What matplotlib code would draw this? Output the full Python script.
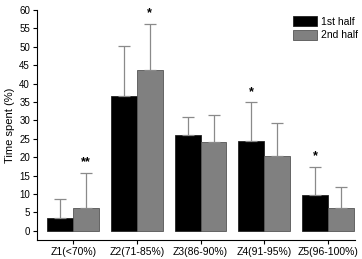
import numpy as np
import matplotlib.pyplot as plt

plt.rcParams['font.family'] = ['Liberation Sans', 'DejaVu Sans']

zones = ['Z1(<70%)', 'Z2(71-85%)', 'Z3(86-90%)', 'Z4(91-95%)', 'Z5(96-100%)']
first_half = [3.5, 36.6, 26.0, 24.4, 9.8]
first_err = [5.0, 13.6, 5.0, 10.5, 7.6]
second_half = [6.2, 43.6, 24.2, 20.2, 6.2]
second_err = [9.6, 12.6, 7.4, 9.1, 5.8]
# significance marks: (group, which bar, label)
marks = [(0, 1, '**'), (1, 1, '*'), (3, 0, '*'), (4, 0, '*')]

x = np.arange(len(zones))
w = 0.406

fig = plt.figure(figsize=(3.62, 2.59), dpi=100)
ax = fig.add_axes([0.102, 0.075, 0.878, 0.886])

ax.bar(x - w/2, first_half, w, color='black', edgecolor='#222222', linewidth=0.6, label='1st half')
ax.bar(x + w/2, second_half, w, color='#808080', edgecolor='#555555', linewidth=0.6, label='2nd half')
ax.errorbar(x - w/2, first_half, yerr=[np.zeros(5), first_err], fmt='none',
            ecolor='#8a8a8a', elinewidth=0.9, capsize=4, capthick=0.9)
ax.errorbar(x + w/2, second_half, yerr=[np.zeros(5), second_err], fmt='none',
            ecolor='#8a8a8a', elinewidth=0.9, capsize=4, capthick=0.9)

for g, b, txt in marks:
    if b == 0:
        xx = x[g] - w/2
        top = first_half[g] + first_err[g]
    else:
        xx = x[g] + w/2
        top = second_half[g] + second_err[g]
    ax.text(xx, top + 1.2, txt, ha='center', va='bottom', fontsize=9,
            fontweight='bold', color='black')

ax.set_xlim(-0.57, 4.42)
ax.set_ylim(-2.4, 60)
ax.set_yticks(np.arange(0, 61, 5))
ax.set_xticks(x)
ax.set_xticklabels(zones, fontsize=7.5)
ax.tick_params(axis='y', labelsize=7, length=3, width=0.8, pad=2)
ax.tick_params(axis='x', length=3, width=0.8, pad=2)
ax.set_ylabel('Time spent (%)', fontsize=8, labelpad=3)
ax.spines['top'].set_visible(False)
ax.spines['right'].set_visible(False)

ax.legend(loc='upper right', bbox_to_anchor=(1.03, 1.0), frameon=False, fontsize=7.5,
          handlelength=2.3, handleheight=1.0, borderaxespad=0.2, labelspacing=0.35,
          handletextpad=0.4)

plt.savefig('out.png', dpi=100)
